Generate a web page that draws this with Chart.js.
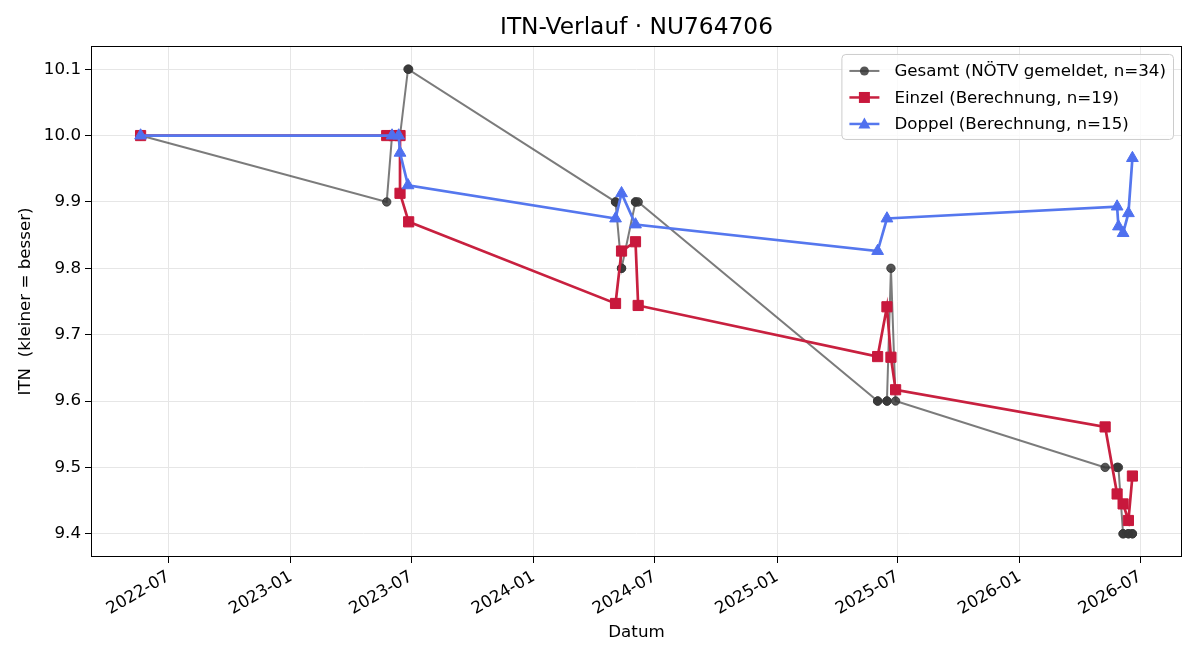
<!DOCTYPE html>
<html>
<head>
<meta charset="utf-8">
<script src="https://cdn.jsdelivr.net/npm/chart.js@4.4.1/dist/chart.umd.min.js"></script>
<style>
  html, body { margin: 0; padding: 0; background: #fff; }
</style>
</head>
<body>
<canvas id="myChart" width="1200" height="660"></canvas>
<script>
const gesamtDates = [
  "2022-05-20", "2022-05-20", "2023-05-25", "2023-06-02", "2023-06-05", "2023-06-12",
  "2023-06-14", "2023-06-14", "2023-06-14", "2023-06-26", "2023-06-27",
  "2024-05-03", "2024-05-03", "2024-05-12", "2024-05-12", "2024-06-02", "2024-06-02", "2024-06-06",
  "2025-06-01", "2025-06-01", "2025-06-15", "2025-06-15", "2025-06-21", "2025-06-28",
  "2026-05-09", "2026-05-27", "2026-05-27", "2026-05-29", "2026-06-05", "2026-06-05",
  "2026-06-13", "2026-06-13", "2026-06-19", "2026-06-19"
];
const gesamtValues = [
  10.0, 10.0, 9.9, 10.0, 10.0, 10.0,
  10.0, 10.0, 10.0, 10.1, 10.1,
  9.9, 9.9, 9.8, 9.8, 9.9, 9.9, 9.9,
  9.6, 9.6, 9.6, 9.6, 9.8, 9.6,
  9.5, 9.5, 9.5, 9.5, 9.4, 9.4,
  9.4, 9.4, 9.4, 9.4
];

const einzelDates = [
  "2022-05-20", "2023-05-25", "2023-06-05", "2023-06-14", "2023-06-14", "2023-06-27",
  "2024-05-03", "2024-05-12", "2024-06-02", "2024-06-06",
  "2025-06-01", "2025-06-15", "2025-06-21", "2025-06-28",
  "2026-05-09", "2026-05-27", "2026-06-05", "2026-06-13", "2026-06-19"
];
const einzelValues = [
  10.0, 10.0, 10.0, 10.0, 9.913, 9.870,
  9.747, 9.826, 9.840, 9.744,
  9.667, 9.742, 9.666, 9.617,
  9.561, 9.460, 9.445, 9.420, 9.487
];

const doppelDates = [
  "2022-05-20", "2023-06-02", "2023-06-12", "2023-06-14", "2023-06-26",
  "2024-05-03", "2024-05-12", "2024-06-02",
  "2025-06-01", "2025-06-15",
  "2026-05-27", "2026-05-29", "2026-06-05", "2026-06-13", "2026-06-19"
];
const doppelValues = [
  10.0, 10.0, 10.0, 9.974, 9.925,
  9.875, 9.913, 9.866,
  9.826, 9.875,
  9.893, 9.863, 9.853, 9.883, 9.966
];

const xTickLabels = ["2022-07", "2023-01", "2023-07", "2024-01", "2024-07", "2025-01", "2025-07", "2026-01", "2026-07"];
const yTickValues = [9.4, 9.5, 9.6, 9.7, 9.8, 9.9, 10.0, 10.1];

const seriesLabels = [
  "Gesamt (NÖTV gemeldet, n=34)",
  "Einzel (Berechnung, n=19)",
  "Doppel (Berechnung, n=15)"
];

function toPoints(dates, values) {
  const pts = [];
  for (let i = 0; i < dates.length; i++) {
    pts.push({ x: Date.parse(dates[i]), y: values[i] });
  }
  return pts;
}

const allX = gesamtDates.concat(einzelDates, doppelDates).map((d) => Date.parse(d));
const allY = gesamtValues.concat(einzelValues, doppelValues);
const xMinData = Math.min(...allX);
const xMaxData = Math.max(...allX);
const yMinData = Math.min(...allY);
const yMaxData = Math.max(...allY);
const xPad = (xMaxData - xMinData) * 0.05;
const yPad = (yMaxData - yMinData) * 0.05;
const xTickValues = xTickLabels.map((t) => Date.parse(t + "-01"));

Chart.defaults.font.family = "'DejaVu Sans', sans-serif";
Chart.defaults.color = "#000";

const FONT = 16.7;

const GRAY_LINE = "rgba(60,60,60,0.68)";
const GRAY_PT = "rgba(55,55,55,0.85)";
const RED_LINE = "#c8203f";
const RED_PT = "#c8183c";
const BLUE_LINE = "#5577ee";
const BLUE_PT = "#4f70ef";

const frame = {
  id: "frame",
  afterDatasetsDraw(chart) {
    const a = chart.chartArea;
    const ctx = chart.ctx;
    ctx.save();
    ctx.strokeStyle = "#000";
    ctx.lineWidth = 1;
    ctx.strokeRect(Math.round(a.left) + 0.5, Math.round(a.top) + 0.5,
      Math.round(a.right - a.left) - 1, Math.round(a.bottom - a.top) - 1);
    ctx.restore();
  }
};

function drawMarker(ctx, style, x, y, color) {
  ctx.fillStyle = color;
  ctx.beginPath();
  if (style === "circle") {
    ctx.arc(x, y, 4.5, 0, Math.PI * 2);
  } else if (style === "rect") {
    ctx.rect(x - 5.5, y - 5.5, 11, 11);
  } else {
    ctx.moveTo(x, y - 6.5);
    ctx.lineTo(x + 6, y + 4.5);
    ctx.lineTo(x - 6, y + 4.5);
    ctx.closePath();
  }
  ctx.fill();
}

const legendBox = {
  id: "legendBox",
  afterDraw(chart) {
    const ctx = chart.ctx;
    const a = chart.chartArea;
    const styles = ["circle", "rect", "triangle"];
    const lineColors = [GRAY_LINE, RED_LINE, BLUE_LINE];
    const ptColors = [GRAY_PT, RED_PT, BLUE_PT];
    ctx.save();
    ctx.font = FONT + "px 'DejaVu Sans', sans-serif";
    let tw = 0;
    for (const s of seriesLabels) tw = Math.max(tw, ctx.measureText(s).width);
    const w = 8 + 30 + 15 + tw + 7;
    const h = 85;
    const x0 = a.right - 9 - w;
    const y0 = a.top + 8;
    ctx.fillStyle = "rgba(255,255,255,0.8)";
    ctx.strokeStyle = "#cccccc";
    ctx.lineWidth = 1;
    ctx.beginPath();
    ctx.roundRect(x0 + 0.5, y0 + 0.5, w, h, 4);
    ctx.fill();
    ctx.stroke();
    for (let i = 0; i < 3; i++) {
      const cy = y0 + 17 + i * 26.5;
      ctx.strokeStyle = lineColors[i];
      ctx.lineWidth = i === 0 ? 2 : 2.5;
      ctx.beginPath();
      ctx.moveTo(x0 + 8, cy);
      ctx.lineTo(x0 + 38, cy);
      ctx.stroke();
      drawMarker(ctx, styles[i], x0 + 23, cy, ptColors[i]);
      ctx.fillStyle = "#000";
      ctx.textBaseline = "middle";
      ctx.textAlign = "left";
      ctx.fillText(seriesLabels[i], x0 + 53, cy + 1);
    }
    ctx.restore();
  }
};

const ctx = document.getElementById("myChart");

const config = {
  type: "line",
  data: {
    datasets: [
      {
        label: seriesLabels[0],
        data: toPoints(gesamtDates, gesamtValues),
        borderColor: GRAY_LINE,
        borderWidth: 2,
        pointStyle: "circle",
        pointRadius: 4.2,
        pointBackgroundColor: GRAY_PT,
        pointBorderColor: GRAY_PT,
        pointBorderWidth: 1,
        tension: 0,
        order: 3,
      },
      {
        label: seriesLabels[1],
        data: toPoints(einzelDates, einzelValues),
        borderColor: RED_LINE,
        borderWidth: 2.7,
        pointStyle: "rect",
        pointRadius: 7.2,
        pointBackgroundColor: RED_PT,
        pointBorderColor: RED_PT,
        pointBorderWidth: 1,
        tension: 0,
        order: 2,
      },
      {
        label: seriesLabels[2],
        data: toPoints(doppelDates, doppelValues),
        borderColor: BLUE_LINE,
        borderWidth: 2.7,
        pointStyle: "triangle",
        pointRadius: 6.8,
        pointBackgroundColor: BLUE_PT,
        pointBorderColor: BLUE_PT,
        pointBorderWidth: 1,
        tension: 0,
        order: 1,
      },
    ],
  },
  options: {
    responsive: false,
    animation: false,
    devicePixelRatio: 1,
    layout: { padding: { left: 0, right: 18, top: 0, bottom: 0 } },
    plugins: {
      legend: { display: false },
      tooltip: { enabled: false },
      title: {
        display: true,
        fullSize: false,
        text: "ITN-Verlauf · NU764706",
        font: { size: 23.3, weight: "normal" },
        color: "#000",
        padding: { top: 14, bottom: 4 },
      },
    },
    scales: {
      x: {
        type: "linear",
        min: xMinData - xPad,
        max: xMaxData + xPad,
        afterBuildTicks: (scale) => {
          scale.ticks = xTickValues.map((v) => ({ value: v }));
        },
        afterFit: (scale) => {
          scale.height = 103;
        },
        ticks: {
          autoSkip: false,
          minRotation: 30,
          maxRotation: 30,
          padding: 4,
          font: { size: FONT },
          color: "#000",
          callback: (value, index) => xTickLabels[index],
        },
        grid: {
          color: "#e6e6e6",
          lineWidth: 1,
          tickColor: "#000",
          tickLength: 6,
        },
        border: { display: false },
        title: {
          display: true,
          text: "Datum",
          font: { size: FONT },
          color: "#000",
          padding: { top: 4, bottom: 17 },
        },
      },
      y: {
        type: "linear",
        min: yMinData - yPad,
        max: yMaxData + yPad,
        afterBuildTicks: (scale) => {
          scale.ticks = yTickValues.map((v) => ({ value: v }));
        },
        afterFit: (scale) => {
          scale.width = 91;
        },
        ticks: {
          padding: 4,
          font: { size: FONT },
          color: "#000",
          callback: (value) => value.toFixed(1),
        },
        grid: {
          color: "#e6e6e6",
          lineWidth: 1,
          tickColor: "#000",
          tickLength: 6,
        },
        border: { display: false },
        title: {
          display: true,
          text: "ITN  (kleiner = besser)",
          font: { size: FONT },
          color: "#000",
          padding: { top: 16, bottom: 4 },
        },
      },
    },
  },
  plugins: [frame, legendBox],
};

new Chart(ctx, config);
</script>
</body>
</html>
